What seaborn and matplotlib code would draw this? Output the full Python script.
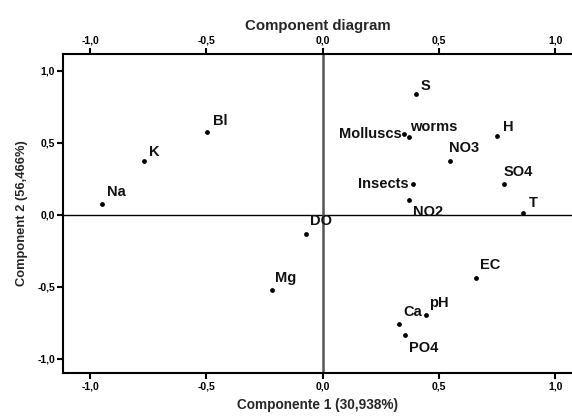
import matplotlib
matplotlib.use("Agg")
import matplotlib.pyplot as plt
import matplotlib.ticker as mticker
import seaborn as sns
import pandas as pd

labels = ["Na", "K", "Bl", "Mg", "DO", "S", "Molluscs", "worms", "H", "NO3",
          "SO4", "Insects", "NO2", "T", "EC", "Ca", "pH", "PO4"]
comp1 = [-0.95, -0.768, -0.498, -0.22, -0.071, 0.402, 0.351, 0.369, 0.75, 0.548,
         0.78, 0.39, 0.369, 0.863, 0.661, 0.329, 0.444, 0.355]
comp2 = [0.071, 0.372, 0.575, -0.526, -0.137, 0.835, 0.557, 0.54, 0.545, 0.376,
         0.212, 0.212, 0.105, 0.0125, -0.441, -0.763, -0.696, -0.837]
tick_values = [-1.0, -0.5, 0.0, 0.5, 1.0]

df = pd.DataFrame({"label": labels, "c1": comp1, "c2": comp2})

sns.set_style("ticks")
plt.rcParams["font.family"] = ["Liberation Sans", "DejaVu Sans"]

fig = plt.figure(figsize=(5.72, 4.17), dpi=100)
ax = fig.add_axes([0.111, 0.1055, 0.889, 0.765])

ax.axhline(0, color="black", lw=1.0, zorder=1)
ax.axvline(0, color="#555555", lw=1.8, zorder=1)

sns.scatterplot(data=df, x="c1", y="c2", ax=ax, color="black", s=12,
                edgecolor="black", linewidth=0, zorder=3, legend=False)

# label offsets in pixels (dx, dy, ha)
offsets = {
    "Na": (5, 12, "left"), "K": (5, 9, "left"), "Bl": (6, 11, "left"),
    "Mg": (3, 12, "left"), "DO": (4, 13, "left"), "S": (4, 8, "left"),
    "Molluscs": (-3, 0, "right"), "worms": (2, 10, "left"), "H": (6, 9, "left"),
    "NO3": (-1, 13, "left"), "SO4": (-1, 12, "left"), "Insects": (-5, 0, "right"),
    "NO2": (4, -12, "left"), "T": (5, 10, "left"), "EC": (4, 13, "left"),
    "Ca": (4, 12, "left"), "pH": (3, 12, "left"), "PO4": (4, -13, "left"),
}
for lab, x, y in zip(labels, comp1, comp2):
    dx, dy, ha = offsets[lab]
    ax.annotate(lab, (x, y), xytext=(dx, dy), textcoords="offset pixels",
                ha=ha, va="center", fontsize=10.5, fontweight="bold",
                color="#111111", zorder=4)

ax.set_xlim(-1.115, 1.072)
ax.set_ylim(-1.10, 1.116)
ax.set_xticks(tick_values)
ax.set_yticks(tick_values)
fmt = mticker.FuncFormatter(lambda v, p: f"{v:.1f}".replace(".", ",").replace("-0,0", "0,0"))
ax.xaxis.set_major_formatter(fmt)
ax.yaxis.set_major_formatter(fmt)
ax.tick_params(axis="both", direction="out", length=4, width=1.5, labelsize=7.5,
               pad=2, colors="black")
ax.tick_params(axis="x", top=True, labeltop=True, bottom=True, labelbottom=True)
for tick in ax.xaxis.get_major_ticks():
    tick.label1.set_fontweight("bold")
    tick.label2.set_fontweight("bold")
for tick in ax.yaxis.get_major_ticks():
    tick.label1.set_fontweight("bold")

for side in ["left", "bottom", "top"]:
    ax.spines[side].set_linewidth(1.5)
    ax.spines[side].set_color("black")
ax.spines["right"].set_visible(False)

ax.set_xlabel("Componente 1 (30,938%)", fontsize=9.8, fontweight="bold", labelpad=5)
ax.set_ylabel("Component 2 (56,466%)", fontsize=9.3, fontweight="bold", labelpad=7)
ax.set_title("Component diagram", fontsize=10.8, fontweight="bold", pad=17)

fig.savefig("out.png", dpi=100)
